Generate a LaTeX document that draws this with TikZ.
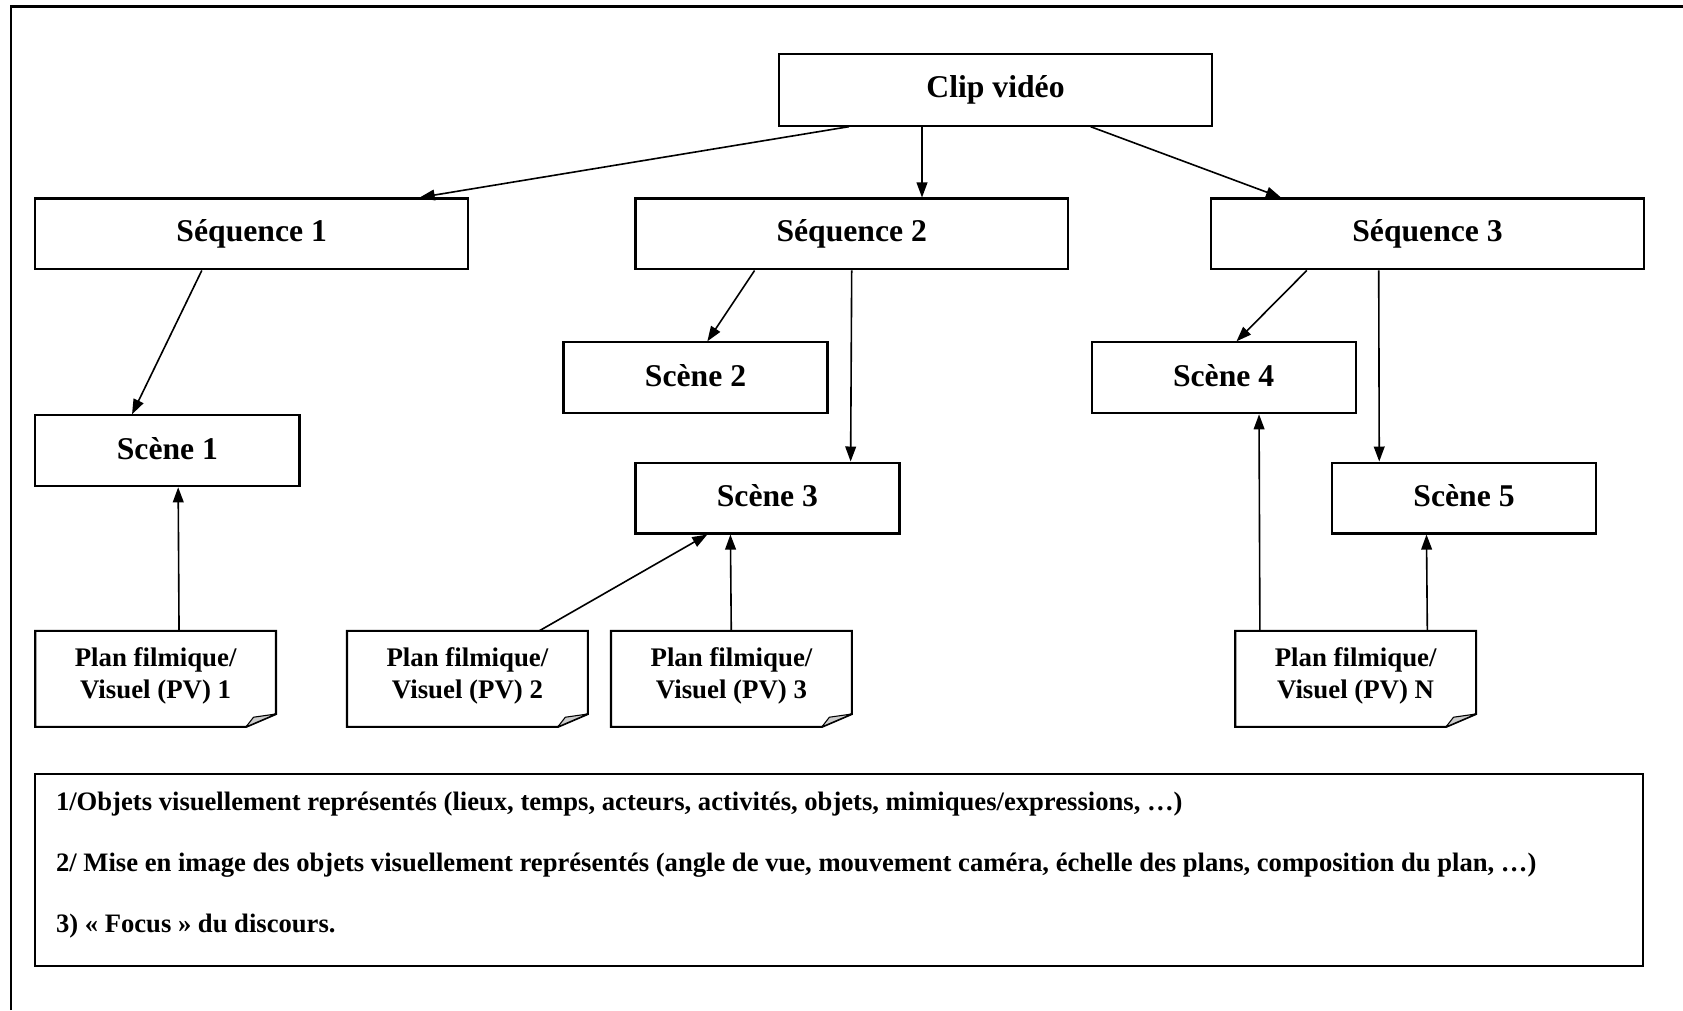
\documentclass[tikz,border=0pt]{standalone}
\usepackage{fontspec}
\setmainfont{Liberation Serif}
\usetikzlibrary{arrows.meta,calc}
\begin{document}
\begin{tikzpicture}[x=1pt,y=-1pt,
  boxline/.style={line width=2pt},
  bigbox/.style={draw, boxline, inner sep=0pt, font=\bfseries\fontsize{29.5}{31}\selectfont},
  seqbox/.style={bigbox, minimum width=403pt, minimum height=66pt},
  scbox/.style={bigbox, minimum width=246pt, minimum height=66pt},
  pvbox/.style={inner sep=0pt, minimum width=224pt, minimum height=89pt, align=center,
     font=\bfseries\fontsize{25}{30}\selectfont},
  notebox/.style={draw, boxline, minimum width=1498pt, minimum height=179pt, inner sep=0pt},
  notetext/.style={anchor=west, inner sep=0pt, font=\bfseries\fontsize{24.8}{26}\selectfont},
  arr/.style={line width=1.5pt, -{Triangle[length=14pt,width=10pt]}}]
\useasboundingbox (0,0) rectangle (1568,941);
\draw[boxline] (10,941) -- (10,6) -- (1568,6);

\node[seqbox, minimum height=67pt] (clip) at (927.5,83.5) {\raisebox{2pt}{Clip vidéo}};
\node[seqbox] (s1) at (234.5,218) {\raisebox{3pt}{Séquence 1}};
\node[seqbox] (s2) at (793.5,218) {\raisebox{3pt}{Séquence 2}};
\node[seqbox] (s3) at (1330,218) {\raisebox{3pt}{Séquence 3}};

\node[scbox] (sc1) at (156,420) {\raisebox{4pt}{Scène 1}};
\node[scbox] (sc2) at (648,352) {\raisebox{4pt}{Scène 2}};
\node[scbox] (sc3) at (715,464) {\raisebox{4pt}{Scène 3}};
\node[scbox] (sc4) at (1140,352) {\raisebox{4pt}{Scène 4}};
\node[scbox] (sc5) at (1364,464) {\raisebox{4pt}{Scène 5}};

\node[pvbox] (pv1) at (145,629.5) {Plan filmique/\\Visuel (PV) 1};
\node[pvbox] (pv2) at (435.5,629.5) {Plan filmique/\\Visuel (PV) 2};
\node[pvbox] (pv3) at (681.5,629.5) {Plan filmique/\\Visuel (PV) 3};
\node[pvbox] (pvN) at (1263,629.5) {Plan filmique/\\Visuel (PV) N};

\foreach \p in {pv1,pv2,pv3,pvN}{
  \coordinate (\p-nw) at ($(\p.north west)+(0,3)$);
  \coordinate (\p-ne) at ($(\p.north east)+(0,3)$);
  \coordinate (\p-se) at ($(\p.south east)+(0,3)$);
  \coordinate (\p-sw) at ($(\p.south west)+(0,3)$);
  \draw[boxline, line join=miter] (\p-nw) -- (\p-ne) -- ([yshift=12pt]\p-se)
     -- ([xshift=-28pt]\p-se) -- (\p-sw) -- cycle;
  \filldraw[fill=gray!40, line width=1pt, line join=round] ([yshift=12pt]\p-se) -- ([xshift=-28pt]\p-se)
     -- ([xshift=-21pt,yshift=9pt]\p-se) -- cycle;
}

\node[notebox] (notes) at (782,810.5) {};
\node[notetext] (n1) at (52,749) {1/Objets visuellement représentés (lieux, temps, acteurs, activités, objets, mimiques/expressions, …)};
\node[notetext] (n2) at (52,806) {2/ Mise en image des objets visuellement représentés (angle de vue, mouvement caméra, échelle des plans, composition du plan, …)};
\node[notetext] (n3) at (52,863) {3) « Focus » du discours.};

\draw[arr] ($(clip.south west)+(66,0)$) -- ($(s1.north west)+(359,0)$);
\draw[arr] ($(clip.south west)+(134,0)$) -- ($(s2.north west)+(268,0)$);
\draw[arr] ($(clip.south west)+(291,0)$) -- ($(s3.north west)+(66,0)$);

\draw[arr] ($(s1.south west)+(156,0)$) -- ($(sc1.north west)+(91,0)$);
\draw[arr] ($(s2.south west)+(112,0)$) -- ($(sc2.north west)+(135,0)$);
\draw[arr] (s2.south) -- ($(sc3.north west)+(201.5,0)$);
\draw[arr] ($(s3.south west)+(90,0)$) -- ($(sc4.north west)+(136,0)$);
\draw[arr] ($(s3.south west)+(157,0)$) -- ($(sc5.north west)+(45,0)$);

\draw[arr] ($(pv1-nw)+(134,0)$) -- ($(sc1.south west)+(134,0)$);
\draw[arr] ($(pv2-nw)+(179,0)$) -- ($(sc3.south west)+(68,0)$);
\draw[arr] ($(pv3-nw)+(112,0)$) -- ($(sc3.south west)+(89.5,0)$);
\draw[arr] ($(pvN-nw)+(23,0)$) -- ($(sc4.south west)+(157,0)$);
\draw[arr] ($(pvN-nw)+(179,0)$) -- ($(sc5.south west)+(89,0)$);
\end{tikzpicture}
\end{document}
